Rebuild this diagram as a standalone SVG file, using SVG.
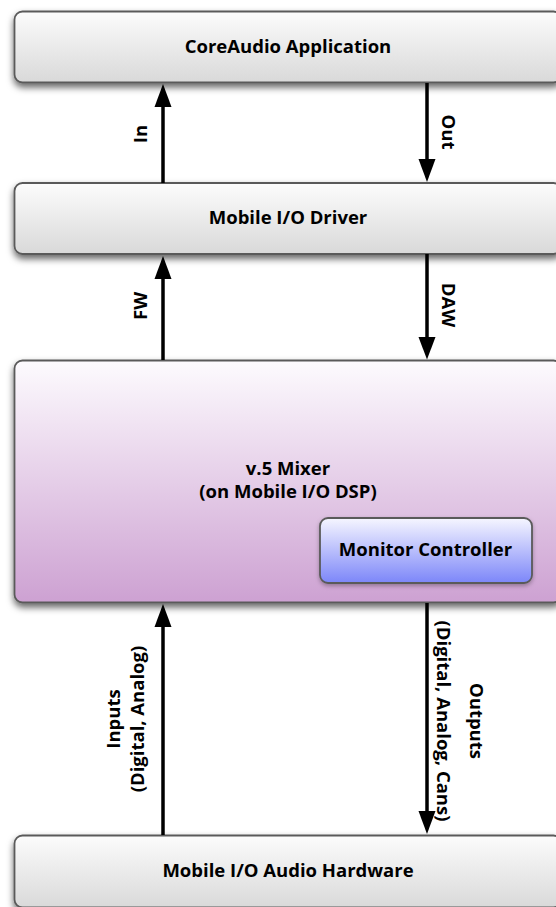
<svg xmlns="http://www.w3.org/2000/svg" width="556" height="907" viewBox="0 0 556 907">
<style>
.box{stroke:#5a5a5a;stroke-width:1.8}
.gray{fill:url(#gGray)}
.t{font-family:"Open Sans","Liberation Sans",sans-serif;font-weight:700;font-size:18.5px;fill:#000;text-anchor:middle}
.conn{stroke:#000;stroke-width:3.5;fill:none}
</style>
<defs>
<linearGradient id="gGray" x1="0" y1="0" x2="0" y2="1"><stop offset="0" stop-color="#fcfcfc"/><stop offset="1" stop-color="#d9d9d9"/></linearGradient>
<linearGradient id="gMix" x1="0" y1="0" x2="0" y2="1"><stop offset="0" stop-color="#fdfbfe"/><stop offset="1" stop-color="#cda1d2"/></linearGradient>
<linearGradient id="gMon" x1="0" y1="0" x2="0" y2="1"><stop offset="0" stop-color="#f6f6ff"/><stop offset="1" stop-color="#7c86f9"/></linearGradient>
<filter id="sh" x="-10%" y="-20%" width="120%" height="150%"><feDropShadow dx="0" dy="4" stdDeviation="3.5" flood-color="#000" flood-opacity="0.6"/></filter>
<filter id="sh2" x="-10%" y="-20%" width="120%" height="150%"><feDropShadow dx="0" dy="2" stdDeviation="2" flood-color="#000" flood-opacity="0.3"/></filter>
</defs>
<g id="coreaudio">
<rect class="box gray" x="14.5" y="11.5" width="547" height="71" rx="8" filter="url(#sh)"/>
<text class="t" x="288" y="53">CoreAudio Application</text>
</g>
<g id="driver">
<rect class="box gray" x="14.5" y="183" width="547" height="71" rx="8" filter="url(#sh)"/>
<text class="t" x="288" y="224">Mobile I/O Driver</text>
</g>
<g id="mixer">
<rect class="box" fill="url(#gMix)" x="14.5" y="360.5" width="547" height="242" rx="8" filter="url(#sh)"/>
<text class="t" x="288" y="475">v.5 Mixer</text>
<text class="t" x="288" y="498">(on Mobile I/O DSP)</text>
</g>
<g id="monitor">
<rect class="box" fill="url(#gMon)" x="320" y="518" width="212" height="65" rx="8" filter="url(#sh2)"/>
<text class="t" x="425.5" y="556">Monitor Controller</text>
</g>
<g id="hardware">
<rect class="box gray" x="14.5" y="835.5" width="547" height="72" rx="8" filter="url(#sh)"/>
<text class="t" x="288" y="877">Mobile I/O Audio Hardware</text>
</g>
<g id="connectors">
<g>
<line class="conn" x1="163" y1="183" x2="163" y2="107"/><path d="M154.5,107 L163,84 L171.5,107 Z"/>
<text class="t" transform="translate(147,134) rotate(-90)">In</text>
</g>
<g>
<line class="conn" x1="427" y1="83" x2="427" y2="159"/><path d="M418.5,159 L427,182 L435.5,159 Z"/>
<text class="t" transform="translate(442,132) rotate(90)">Out</text>
</g>
<g>
<line class="conn" x1="163" y1="360" x2="163" y2="279"/><path d="M154.5,279 L163,256 L171.5,279 Z"/>
<text class="t" transform="translate(147,306) rotate(-90)">FW</text>
</g>
<g>
<line class="conn" x1="427" y1="254" x2="427" y2="337"/><path d="M418.5,337 L427,359.5 L435.5,337 Z"/>
<text class="t" transform="translate(442,305) rotate(90)">DAW</text>
</g>
<g>
<line class="conn" x1="163" y1="835" x2="163" y2="627"/><path d="M154.5,627 L163,604 L171.5,627 Z"/>
<text class="t" transform="translate(120,719) rotate(-90)">Inputs</text>
<text class="t" transform="translate(144,719) rotate(-90)">(Digital, Analog)</text>
</g>
<g>
<line class="conn" x1="427" y1="603" x2="427" y2="811"/><path d="M418.5,811 L427,834 L435.5,811 Z"/>
<text class="t" transform="translate(470,721) rotate(90)">Outputs</text>
<text class="t" transform="translate(437,721) rotate(90)">(Digital, Analog, Cans)</text>
</g>
</g>
</svg>
